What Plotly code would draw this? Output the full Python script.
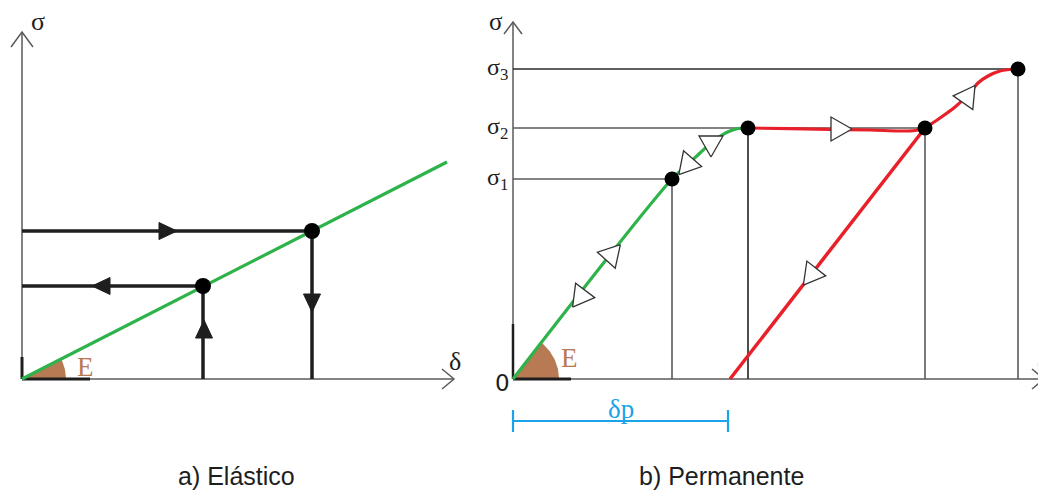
import numpy as np
import plotly.graph_objects as go

# ---------------- data (diagram units, origin = axes origin of each panel) ----------------
# Panel a) Elástico
a_line_delta = [0, 425]
a_line_sigma = [0, 217]
a_pts_delta = [181, 290]          # lower / upper load points on the elastic line
a_pts_sigma = [93, 148]
a_arrow_delta = [143, 82, 182, 290]
a_arrow_sigma = [148, 93, 47, 79]
a_arrow_angle = [90, 270, 0, 180]

# Panel b) Permanente
b_sigma_levels = [200, 251, 310]
b_sigma_names = ["σ<sub>1</sub>", "σ<sub>2</sub>", "σ<sub>3</sub>"]
b_delta_marks = [159, 235, 412, 505]
b_delta_p = 215
green_delta = [0, 159, 173, 187, 199, 209, 217, 225, 235]
green_sigma = [0, 200, 213, 226, 237, 244, 248, 250.5, 251]
red_plateau_delta = [235, 277, 317, 357, 387, 402, 412]
red_plateau_sigma = [251, 250.3, 249.6, 249, 248, 248.5, 251]
red_hard_delta = [412, 427, 442, 455, 465, 475, 487, 505]
red_hard_sigma = [251, 261, 272, 284, 296, 303, 308, 310]
red_unload_delta = [412, 217]
red_unload_sigma = [251, 0]
b_tri_delta = [68, 98, 175, 198, 299, 454, 325]
b_tri_sigma = [83, 124, 215, 236, 105, 282, 250]
b_tri_angle = [217, 42, 221, 180, 218, 35, 90]

titles = ["a) Elástico", "b) Permanente"]

# ---------------- styling ----------------
GREEN = "#2db34a"
RED = "#e8202a"
BLUE = "#1aa3e8"
BROWN = "#b87a52"
AX = "#5a5a5a"
BLK = "#1e1e1e"
SERIF = "Liberation Serif"
SANS = "Liberation Sans"

W, H = 1046, 490
LEFT_W = 480
OFF = 8   # page body margin of the html page

fig = go.Figure()


def add(x, y, panel, **kw):
    xa, ya = ("x", "y") if panel == 0 else ("x2", "y2")
    fig.add_trace(go.Scatter(x=list(x), y=list(y), xaxis=xa, yaxis=ya,
                             hoverinfo="skip", showlegend=False, **kw))


def line(x, y, panel, color, width, shape="linear"):
    add(x, y, panel, mode="lines", line=dict(color=color, width=width, shape=shape, smoothing=1.0))


def tri(cx, cy, ang, base, height):
    t = np.radians(ang)
    d = np.array([np.sin(t), np.cos(t)])
    p = np.array([np.cos(t), -np.sin(t)])
    c = np.array([cx, cy])
    tip = c + d * (2 * height / 3)
    b1 = c - d * (height / 3) + p * (base / 2)
    b2 = c - d * (height / 3) - p * (base / 2)
    pts = [tip, b1, b2, tip]
    return [q[0] for q in pts], [q[1] for q in pts]


def wedge(slope, r, panel):
    a = np.arctan(slope)
    th = np.linspace(0, a, 40)
    xs = [0] + list(r * np.cos(th)) + [0]
    ys = [0] + list(r * np.sin(th)) + [0]
    add(xs, ys, panel, mode="lines", fill="toself", fillcolor=BROWN, line=dict(width=0, color=BROWN))


def chevron(tipx, tipy, direction, panel, L=13, S=10):
    if direction == "up":
        xs = [tipx - S, tipx, tipx + S]
        ys = [tipy - L, tipy, tipy - L]
    else:
        xs = [tipx - L, tipx, tipx - L]
        ys = [tipy + S, tipy, tipy - S]
    line(xs, ys, panel, AX, 1.5)


# ================= Panel a =================
wedge(a_line_sigma[1] / a_line_delta[1], 44, 0)
line([0, 0], [0, 347], 0, AX, 1.5)
line([0, 432], [0, 0], 0, AX, 1.5)
chevron(0, 347, "up", 0, L=15, S=11)
chevron(432, 0, "right", 0, L=12, S=10)
line([0, 68], [0, 0], 0, BLK, 3)
line([0, 0], [0, 22], 0, BLK, 3)
# load paths
line([0, a_pts_delta[1]], [a_pts_sigma[1]] * 2, 0, BLK, 3.5)
line([a_pts_delta[1]] * 2, [a_pts_sigma[1], 0], 0, BLK, 3.5)
line([0, a_pts_delta[0]], [a_pts_sigma[0]] * 2, 0, BLK, 3.5)
line([a_pts_delta[0]] * 2, [0, a_pts_sigma[0]], 0, BLK, 3.5)
line(a_line_delta, a_line_sigma, 0, GREEN, 3.2)
for dx, sy, an in zip(a_arrow_delta, a_arrow_sigma, a_arrow_angle):
    xs, ys = tri(dx, sy, an, 17, 18)
    add(xs, ys, 0, mode="lines", fill="toself", fillcolor=BLK, line=dict(width=1, color=BLK))
add(a_pts_delta, a_pts_sigma, 0, mode="markers", marker=dict(size=16, color="black"))

# ================= Panel b =================
wedge(green_sigma[1] / green_delta[1], 46, 1)
line([0, 0], [0, 357], 1, AX, 1.5)
line([0, 531], [0, 0], 1, AX, 1.5)
chevron(0, 357, "up", 1, L=12, S=9)
chevron(531, 0, "right", 1, L=12, S=10)
line([0, 58], [0, 0], 1, BLK, 3)
line([0, 0], [0, 55], 1, BLK, 2.5)
# reference lines
s1, s2, s3 = b_sigma_levels
d1, d2, d3, d4 = b_delta_marks
line([0, d1], [s1, s1], 1, AX, 1.4)
line([0, d3], [s2, s2], 1, AX, 1.4)
line([0, d4], [s3, s3], 1, "#2a2a2a", 1.5)
line([d1, d1], [s1, 0], 1, AX, 1.6)
line([d2, d2], [s2, 0], 1, "#3a3a3a", 1.8)
line([d3, d3], [s2, 0], 1, AX, 1.6)
line([d4, d4], [s3, 0], 1, AX, 1.6)
# curves
line(green_delta, green_sigma, 1, GREEN, 3.2, shape="spline")
line(red_plateau_delta, red_plateau_sigma, 1, RED, 3.2, shape="spline")
line(red_hard_delta, red_hard_sigma, 1, RED, 3.2, shape="spline")
line(red_unload_delta, red_unload_sigma, 1, RED, 3.5)
# open arrow heads
for dx, sy, an in zip(b_tri_delta, b_tri_sigma, b_tri_angle):
    xs, ys = tri(dx, sy, an, 24, 21)
    add(xs, ys, 1, mode="lines", fill="toself", fillcolor="white", line=dict(width=1.3, color="#333333"))
add([d1, d2, d3, d4], [s1, s2, s2, s3], 1, mode="markers", marker=dict(size=15, color="black"))
# delta p bracket
line([0, b_delta_p], [-42, -42], 1, BLUE, 2.2)
line([0, 0], [-31, -53], 1, BLUE, 2.2)
line([b_delta_p, b_delta_p], [-31, -53], 1, BLUE, 2.2)

# ---------------- layout ----------------
# panel origins in window pixels: a) (22, 379), b) (513, 379); figure is drawn OFF px in from the page corner
fig.update_layout(
    width=W, height=H, margin=dict(l=0, r=0, t=0, b=0),
    paper_bgcolor="white", plot_bgcolor="white",
    xaxis=dict(domain=[0, LEFT_W / W], range=[OFF - 22, OFF - 22 + LEFT_W], visible=False, fixedrange=True),
    yaxis=dict(domain=[0, 1], range=[379 - OFF - H, 379 - OFF], visible=False, fixedrange=True),
    xaxis2=dict(domain=[LEFT_W / W, 1], range=[LEFT_W + OFF - 513, W + OFF - 513], visible=False, fixedrange=True),
    yaxis2=dict(domain=[0, 1], range=[379 - OFF - H, 379 - OFF], visible=False, fixedrange=True, anchor="x2"),
    showlegend=False,
)

ann = []


def txt(x, y, s, panel, size, color="#1e1e1e", family=SERIF, xanchor="center"):
    ann.append(dict(x=x, y=y, text=s, xref="x" if panel == 0 else "x2", yref="y" if panel == 0 else "y2",
                    showarrow=False, xanchor=xanchor, yanchor="middle",
                    font=dict(size=size, color=color, family=family)))


# panel a texts
txt(16, 358, "σ", 0, 26)
txt(433, 18, "δ", 0, 26)
txt(63, 12, "E", 0, 27, color=BROWN)
txt(214, -97, titles[0], 0, 25, family=SANS)
# panel b texts
txt(-17, 358, "σ", 1, 25)
txt(530, 18, "δ", 1, 26)
txt(56, 21, "E", 1, 27, color=BROWN)
txt(-11, -4, "0", 1, 23, family="DejaVu Sans")
for lv, nm in zip(b_sigma_levels, b_sigma_names):
    txt(-16, lv, nm, 1, 24)
txt(b_delta_p / 2, -30, "δp", 1, 27, color=BLUE)
txt(208, -97, titles[1], 1, 25, family=SANS)

fig.update_layout(annotations=ann)
fig.write_html("out.html")
